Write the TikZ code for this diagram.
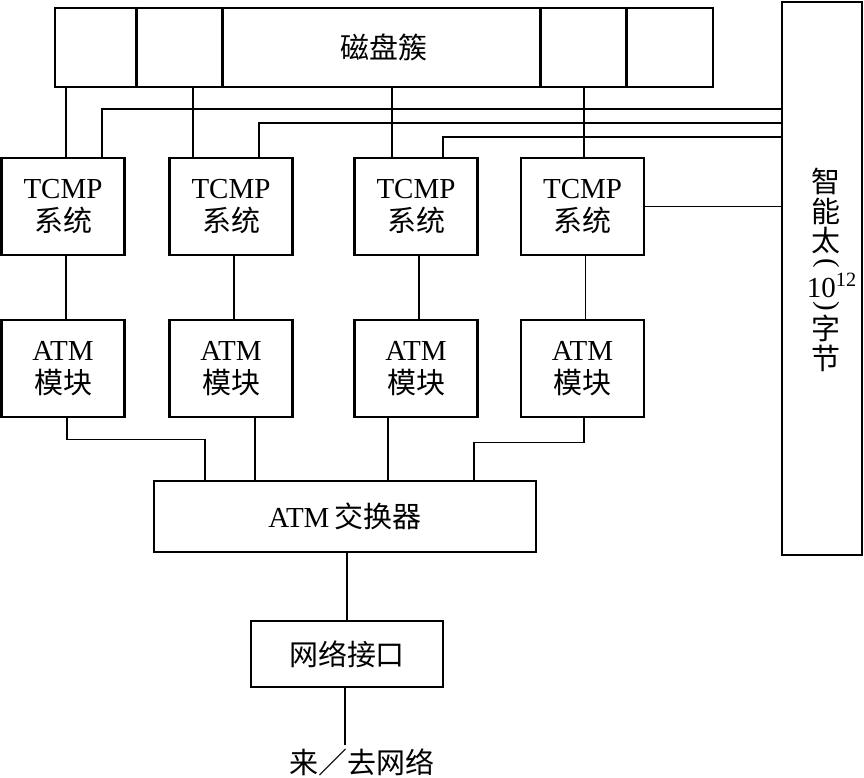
\documentclass[tikz,border=0pt]{standalone}
\usepackage{fontspec}
\setmainfont{Liberation Serif}
\newfontfamily\cjk{Noto Sans CJK SC}
\usetikzlibrary{calc}

\begin{document}
\begin{tikzpicture}[x=0.02cm, y=-0.02cm,
		box/.style={draw, line width=1.6pt, inner sep=0pt, align=center, font=\fontsize{16.5}{18.5}\selectfont},
		unit/.style={box, minimum width=2.46cm, minimum height=1.94cm},
		vlabel/.style={inner sep=0pt, align=center, font=\fontsize{16.5}{17}\selectfont},
		wire/.style={line width=0.8pt}]
		%%%%% START %%%%%
		\useasboundingbox (0,0) rectangle (864,777);
		
		\node[box, minimum width=13.16cm, minimum height=1.58cm] (disk) at (384, 47.5) {\cjk 磁盘簇};
		\foreach \dx in {83, 169, 487, 573}
			\draw[line width=1.6pt] ($(disk.north west)+(\dx,0)$) -- ($(disk.south west)+(\dx,0)$);
		
		\node[box, minimum width=1.6cm, minimum height=11.06cm] (smart) at (822, 278.5) {};
		\node[vlabel] (smartA) at (826, 211) {\cjk 智\\\cjk 能\\\cjk 太};
		\node[vlabel, rotate=-90] (smartB) at (826, 263) {(};
		\node[vlabel] (smartC) at (832, 285) {10\textsuperscript{12}};
		\node[vlabel, rotate=-90] (smartD) at (826, 306) {)};
		\node[vlabel] (smartE) at (826, 343) {\cjk 字\\\cjk 节};
		
		\node[unit] (tcmpA) at (63, 206.5) {TCMP\\{\cjk 系统}};
		\node[unit] (tcmpB) at (231, 206.5) {TCMP\\{\cjk 系统}};
		\node[unit] (tcmpC) at (416, 206.5) {TCMP\\{\cjk 系统}};
		\node[unit] (tcmpD) at (582.5, 206.5) {TCMP\\{\cjk 系统}};
		
		\node[unit] (atmA) at (63, 368.5) {ATM\\{\cjk 模块}};
		\node[unit] (atmB) at (231, 368.5) {ATM\\{\cjk 模块}};
		\node[unit] (atmC) at (416, 368.5) {ATM\\{\cjk 模块}};
		\node[unit] (atmD) at (582.5, 368.5) {ATM\\{\cjk 模块}};
		
		\node[box, minimum width=7.64cm, minimum height=1.42cm] (switch) at (345, 516.5) {ATM\hspace{3pt}{\cjk 交换器}};
		\node[box, minimum width=3.84cm, minimum height=1.32cm] (net) at (347, 654) {\cjk 网络接口};
		\node[inner sep=2pt, font=\fontsize{16.5}{18.5}\selectfont] (out) at (362, 762) {\cjk 来／去网络};
		
		% disk cluster to TCMP
		\foreach \u/\dx in {tcmpA/3, tcmpB/-38, tcmpC/-24, tcmpD/1.5}
			\draw[wire] ($(\u.north)+(\dx,0)$) coordinate (p) -- (p |- disk.south);
		% smart store bus
		\foreach \u/\dx/\dy in {tcmpA/39/20.5, tcmpB/28/34.5, tcmpC/27/48.5}
			\draw[wire] ($(\u.north)+(\dx,0)$) |- ($(smart.west |- disk.south)+(0,\dy)$);
		\draw[wire] (tcmpD.east) -- (tcmpD.east -| smart.west);
		
		% TCMP to ATM
		\foreach \u/\v in {tcmpA/atmA, tcmpB/atmB, tcmpC/atmC, tcmpD/atmD}
			\draw[wire] ($(\u.south)+(3,0)$) -- ($(\v.north)+(3,0)$);
		
		% ATM to switch
		\draw[wire] ($(atmA.south)+(4,0)$) -- ++(0,21) -| ($(switch.north)+(-140,0)$);
		\draw[wire] ($(atmB.south)+(24,0)$) coordinate (p) -- (p |- switch.north);
		\draw[wire] ($(atmC.south)+(-28,0)$) coordinate (p) -- (p |- switch.north);
		\draw[wire] ($(atmD.south)+(1.5,0)$) -- ++(0,24) -| ($(switch.north)+(129,0)$);
		
		\draw[wire] (switch.south -| net.north) -- (net.north);
		\draw[wire] ($(net.south)+(-2,0)$) coordinate (p) -- (p |- out.north);
		%%%%% END %%%%%
	\end{tikzpicture}
\end{document}
